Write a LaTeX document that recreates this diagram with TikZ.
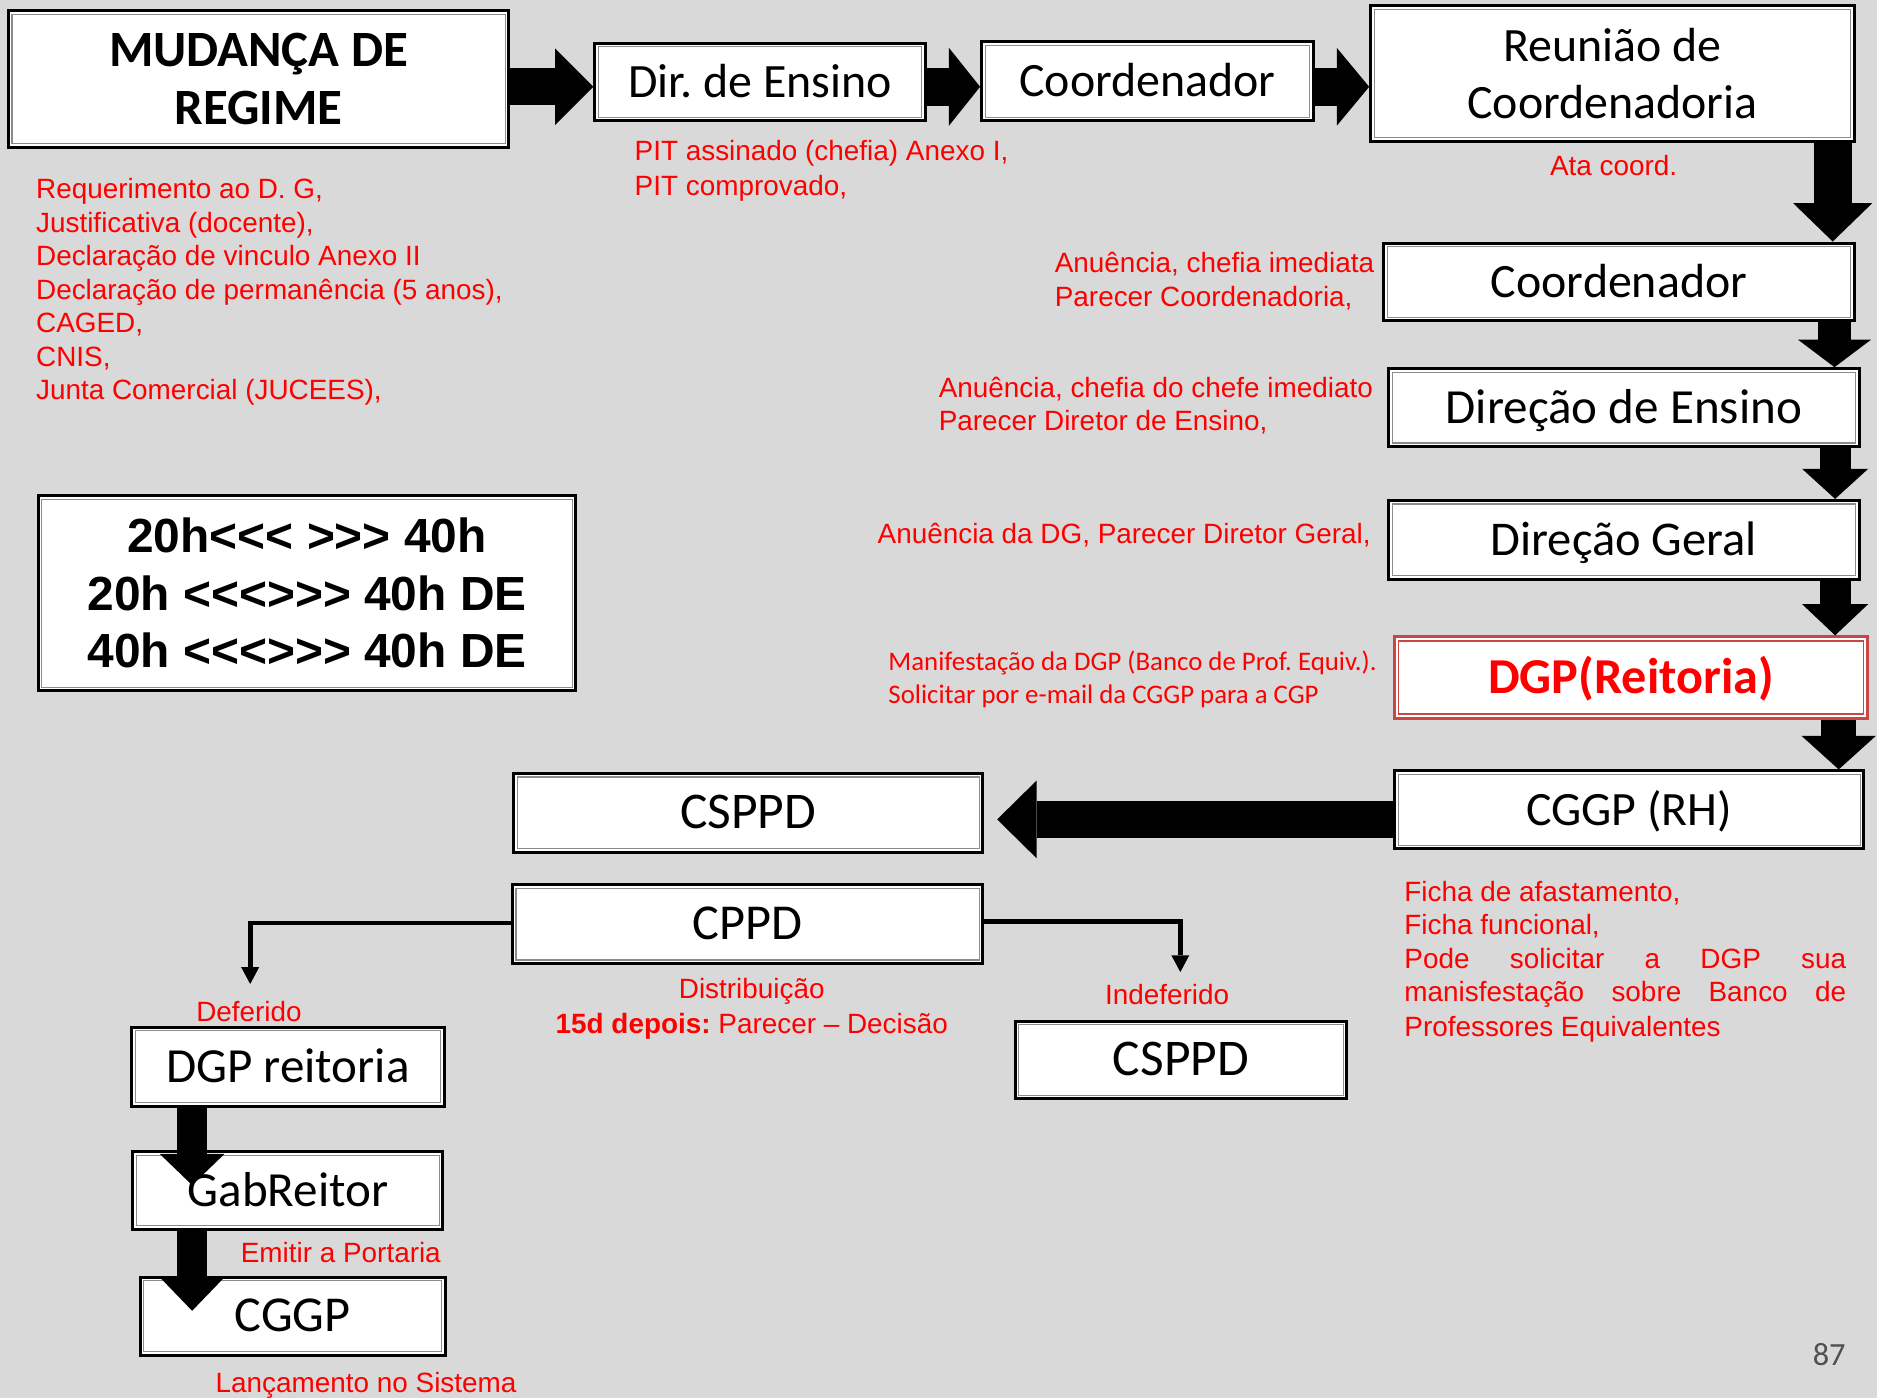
\documentclass[tikz,border=0pt]{standalone}
\usepackage{fontspec}
\setmainfont{Liberation Sans}
\newfontfamily\calfont{Carlito}
\usetikzlibrary{arrows.meta,calc}
\definecolor{bgc}{RGB}{217,217,217}
\definecolor{hred}{RGB}{200,70,70}
\definecolor{pgnum}{RGB}{80,80,80}
\frenchspacing
\begin{document}
\frenchspacing
\begin{tikzpicture}[x=1pt,y=-1pt,
  box/.style={draw=black, line width=2.5pt, fill=white, inner sep=0pt,
    font=\calfont\fontsize{40}{48}\selectfont,
    path picture={\draw[black!45, line width=1pt, fill=none]
      ([xshift=3pt,yshift=-3pt]path picture bounding box.north west) rectangle
      ([xshift=-3pt,yshift=3pt]path picture bounding box.south east);}},
  box1/.style={box, text height=26pt, text depth=0pt},
  redbox/.style={box1, draw=hred, text=red,
    font=\calfont\bfseries\fontsize{42}{48}\selectfont,
    path picture={\draw[hred, line width=1pt, fill=none]
      ([xshift=3.5pt,yshift=-3.5pt]path picture bounding box.north west) rectangle
      ([xshift=-3.5pt,yshift=3.5pt]path picture bounding box.south east);}},
  note/.style={text=red, inner sep=0pt, font=\fontsize{23.3}{28}\selectfont},
  calnote/.style={text=red, inner sep=0pt, font=\calfont\fontsize{22.4}{28}\selectfont},
  blockarrow/.style n args={3}{draw=black, line width=#1,
    -{Triangle[width=#2,length=#3,line width=0pt]}},
  thinarrow/.style={draw=black, line width=4pt,
    -{Triangle[width=15pt,length=14pt,line width=0pt]}}
]
\fill[bgc] (0,0) rectangle (1568,1168);
\useasboundingbox (0,0) rectangle (1568,1168);

% ---- boxes ----
\node[box, align=center, font=\calfont\bfseries\fontsize{42.5}{48}\selectfont,
  minimum width=418pt, minimum height=114pt] (A) at (216,66) {MUDANÇA DE\\REGIME};
\node[box1, minimum width=276pt, minimum height=65pt] (B) at (635,68.5) {Dir. de Ensino};
\node[box1, minimum width=277pt, minimum height=66pt] (C) at (958.5,68) {Coordenador};
\node[box, align=center, minimum width=404pt, minimum height=113pt] (D) at (1347,61.5) {Reunião de\\Coordenadoria};
\node[box1, minimum width=393pt, minimum height=65pt] (E) at (1352.5,235.5) {Coordenador};
\node[box1, font=\calfont\fontsize{41}{48}\selectfont, minimum width=393pt, minimum height=65pt] (F) at (1356.5,340.5) {Direção de Ensino};
\node[box1, font=\calfont\fontsize{40.5}{48}\selectfont, minimum width=393pt, minimum height=66pt] (G) at (1356.5,451) {Direção Geral};
\node[redbox, minimum width=395pt, minimum height=68pt] (H) at (1362.5,566) {DGP(Reitoria)};
\node[box1, minimum width=392pt, minimum height=65pt] (I) at (1361,676.5) {CGGP (RH)};
\node[box1, font=\calfont\fontsize{43}{50}\selectfont, minimum width=392pt, minimum height=66pt] (J) at (625,679) {CSPPD};
\node[box1, font=\calfont\fontsize{42}{50}\selectfont, minimum width=393pt, minimum height=66pt] (K) at (624.5,772) {CPPD};
\node[box1, font=\calfont\fontsize{43}{50}\selectfont, minimum width=277pt, minimum height=65pt] (L) at (986.5,885.5) {CSPPD};
\node[box1, font=\calfont\fontsize{41}{50}\selectfont, minimum width=261pt, minimum height=66pt] (M) at (240.5,891) {DGP reitoria};
\node[box1, font=\calfont\fontsize{41}{50}\selectfont, minimum width=259pt, minimum height=65pt] (N) at (240.5,994.5) {GabReitor};
\node[box1, font=\calfont\fontsize{42}{50}\selectfont, minimum width=255pt, minimum height=65pt] (O) at (244.5,1099.5) {CGGP};
\node[box, align=center, font=\bfseries\fontsize{40}{48}\selectfont,
  minimum width=449pt, minimum height=163pt] (T) at (256.5,495.5)
  {20h<\kern0pt<\kern0pt< >\kern0pt>\kern0pt> 40h\\
   20h <\kern0pt<\kern0pt<\kern0pt>\kern0pt>\kern0pt> 40h DE\\
   40h <\kern0pt<\kern0pt<\kern0pt>\kern0pt>\kern0pt> 40h DE};

% ---- block arrows ----
\coordinate (rowy) at (0,72.5);
\draw[blockarrow={31pt}{64pt}{32pt}] (A.east |- rowy) -- (B.west |- rowy);
\draw[blockarrow={32pt}{65pt}{26pt}] (B.east |- rowy) -- (C.west |- rowy);
\draw[blockarrow={32pt}{65pt}{27pt}] (C.east |- rowy) -- (D.west |- rowy);

\coordinate (c1) at (1531,0);
\coordinate (c2) at (1532.5,0);
\coordinate (c3) at (1533,0);
\coordinate (c4) at (1536,0);
\draw[blockarrow={32pt}{66pt}{32pt}] (D.south -| c1) -- (E.north -| c1);
\draw[blockarrow={27pt}{61pt}{23pt}] (E.south -| c2) -- (F.north -| c2);
\draw[blockarrow={26pt}{55pt}{25pt}] (F.south -| c3) -- (G.north -| c3);
\draw[blockarrow={26pt}{55pt}{26pt}] (G.south -| c3) -- (H.north -| c3);
\draw[blockarrow={29pt}{62pt}{28pt}] (H.south -| c4) -- (I.north -| c4);

\coordinate (jtip) at (833,684.5);
\draw[blockarrow={31pt}{65pt}{33pt}] (I.west |- jtip) -- (jtip);

\coordinate (ntip) at (160.5,990);
\coordinate (otip) at (160.5,1095);
\draw[blockarrow={25pt}{54pt}{26pt}] (M.south -| ntip) -- (ntip);
\draw[blockarrow={25pt}{54pt}{28pt}] (N.south -| otip) -- (otip);

% ---- thin connectors ----
\coordinate (defend) at (209,822);
\coordinate (indend) at (986,812);
\draw[thinarrow] ([yshift=1pt]K.west) -| (defend);
\draw[thinarrow] ([yshift=2pt]K.east) -| (indend);

% ---- red notes ----
\node[note, anchor=base west] (r1) at (30,166) {Requerimento ao D. G,};
\node[note, anchor=base west] (r2) at (30,194) {Justificativa (docente),};
\node[note, anchor=base west] (r3) at (30,222) {Declaração de vinculo Anexo II};
\node[note, anchor=base west] (r4) at (30,250) {Declaração de permanência (5 anos),};
\node[note, anchor=base west] (r5) at (30,278) {CAGED,};
\node[note, anchor=base west] (r6) at (30,306) {CNIS,};
\node[note, anchor=base west] (r7) at (30,334) {Junta Comercial (JUCEES),};

\node[note, anchor=base west] (p1) at (530,134) {PIT assinado (chefia) Anexo I,};
\node[note, anchor=base west] (p2) at (530,163) {PIT comprovado,};

\node[note, anchor=base] (ata) at (1348,147) {Ata coord.};

\node[note, anchor=base west] (e1) at (881,228) {Anuência, chefia imediata};
\node[note, anchor=base west] (e2) at (881,256) {Parecer Coordenadoria,};

\node[note, anchor=base west] (f1) at (784,332) {Anuência, chefia do chefe imediato};
\node[note, anchor=base west] (f2) at (784,360) {Parecer Diretor de Ensino,};

\node[note, anchor=base west] (g1) at (733,454) {Anuência da DG, Parecer Diretor Geral,};

\node[calnote, anchor=base west] (h1) at (742,560) {Manifestação da DGP (Banco de Prof. Equiv.).};
\node[calnote, anchor=base west] (h2) at (742,588) {Solicitar por e-mail da CGGP para a CGP};

\node[note, anchor=base west] (i1) at (1173,753) {Ficha de afastamento,};
\node[note, anchor=base west] (i2) at (1173,781) {Ficha funcional,};
\node[note, anchor=base west] (i3) at (1173,809) {\makebox[369pt][s]{Pode solicitar a DGP sua}};
\node[note, anchor=base west] (i4) at (1173,837) {\makebox[369pt][s]{manisfestação sobre Banco de}};
\node[note, anchor=base west] (i5) at (1173,866) {Professores Equivalentes};

\node[note, anchor=base] (def) at (208,853) {Deferido};
\node[note, anchor=base] (k1) at (628,834) {Distribuição};
\node[note, anchor=base] (k2) at (628,863) {\textbf{15d depois:} Parecer – Decisão};
\node[note, anchor=base] (ind) at (975,839) {Indeferido};
\node[note, anchor=base west] (emit) at (201,1055) {Emitir a Portaria};
\node[note, anchor=base west] (lanc) at (180,1163) {Lançamento no Sistema};

\node[inner sep=0pt, anchor=base, text=pgnum, font=\calfont\fontsize{27}{30}\selectfont] (pg) at (1528,1141) {87};
\end{tikzpicture}
\end{document}
